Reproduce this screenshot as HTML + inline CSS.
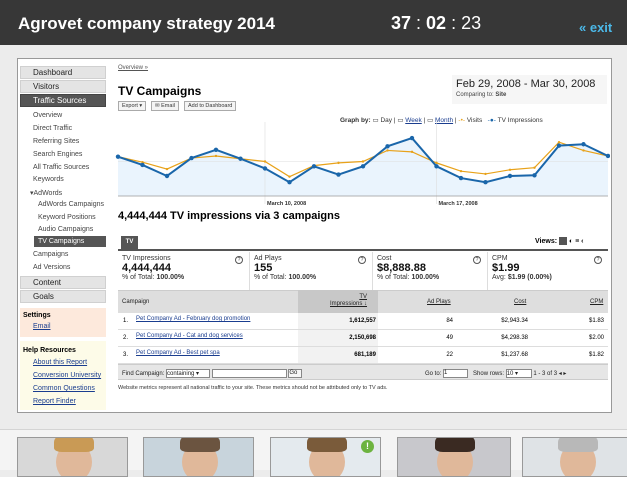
<!DOCTYPE html>
<html><head><meta charset="utf-8">
<style>
*{margin:0;padding:0;box-sizing:border-box}
body{width:627px;height:470px;overflow:hidden;background:#ececec;font-family:"Liberation Sans",Arial,sans-serif;position:relative}
.a{position:absolute;white-space:nowrap}
.s{font-size:7px;color:#444}
.nav{position:absolute;left:20px;width:86px;height:13px;background:#e4e4e4;border:1px solid #d0d0d0;font-size:8px;color:#222;padding-left:12px;line-height:11px}
.lk{color:#1a3d8f;text-decoration:underline}
.btn{position:absolute;top:101px;height:10px;border:1px solid #aaa;background:#f4f4f4;font-size:5.5px;line-height:8px;padding:0 3px;color:#333}
.mb{position:absolute;top:252px;height:38px;border-right:1px solid #ddd;padding:3px 4px;font-size:7px;color:#333}
.mb b.v{display:block;font-size:11px;color:#111;line-height:12px}
.q{position:absolute;top:4px;right:6px;width:8px;height:8px;border:1px solid #555;border-radius:50%;font-size:5px;text-align:center;line-height:6px}
.td{position:absolute;font-size:6px;color:#222}
</style></head><body>
<div class="a" style="left:0;top:0;width:627px;height:45px;background:#373737"></div>
<div class="a" style="left:18px;top:14px;font-size:17px;font-weight:bold;color:#fff">Agrovet company strategy 2014</div>
<div class="a" style="left:391px;top:13px;font-size:18px;color:#fff"><b>37</b> : <b>02</b> : 23</div>
<div class="a" style="left:579px;top:20px;font-size:13px;font-weight:bold;color:#4bb8e8">« exit</div>

<div class="a" style="left:17px;top:58px;width:595px;height:355px;background:#fff;border:1px solid #999"></div>

<div class="nav" style="top:66px">Dashboard</div>
<div class="nav" style="top:80px">Visitors</div>
<div class="nav" style="top:94px;background:#555;color:#fff;border-color:#444">Traffic Sources</div>
<div class="a s" style="left:33px;top:112px">Overview</div>
<div class="a s" style="left:33px;top:125px">Direct Traffic</div>
<div class="a s" style="left:33px;top:138px">Referring Sites</div>
<div class="a s" style="left:33px;top:151px">Search Engines</div>
<div class="a s" style="left:33px;top:164px">All Traffic Sources</div>
<div class="a s" style="left:33px;top:176px">Keywords</div>
<div class="a s" style="left:30px;top:189px">▾AdWords</div>
<div class="a s" style="left:38px;top:201px">AdWords Campaigns</div>
<div class="a s" style="left:38px;top:214px">Keyword Positions</div>
<div class="a s" style="left:38px;top:226px">Audio Campaigns</div>
<div class="a s" style="left:34px;top:236px;width:72px;height:11px;background:#555;color:#fff;padding-left:4px;line-height:11px">TV Campaigns</div>
<div class="a s" style="left:33px;top:251px">Campaigns</div>
<div class="a s" style="left:33px;top:264px">Ad Versions</div>
<div class="nav" style="top:276px">Content</div>
<div class="nav" style="top:290px">Goals</div>
<div class="a" style="left:20px;top:308px;width:86px;height:29px;background:#fde9dc"></div>
<div class="a" style="left:23px;top:312px;font-size:7px;font-weight:bold">Settings</div>
<div class="a s lk" style="left:33px;top:323px">Email</div>
<div class="a" style="left:20px;top:341px;width:86px;height:69px;background:#fdfbe8"></div>
<div class="a" style="left:23px;top:347px;font-size:7px;font-weight:bold">Help Resources</div>
<div class="a s lk" style="left:33px;top:359px">About this Report</div>
<div class="a s lk" style="left:33px;top:372px">Conversion University</div>
<div class="a s lk" style="left:33px;top:385px">Common Questions</div>
<div class="a s lk" style="left:33px;top:398px">Report Finder</div>

<div class="a lk" style="left:118px;top:65px;font-size:6px;color:#555">Overview »</div>
<div class="a" style="left:118px;top:84px;font-size:12px;font-weight:bold">TV Campaigns</div>
<div class="btn" style="left:118px">Export ▾</div>
<div class="btn" style="left:151px">✉ Email</div>
<div class="btn" style="left:184px">Add to Dashboard</div>
<div class="a" style="left:452px;top:75px;width:155px;height:29px;background:#f6f6f6"></div>
<div class="a" style="left:456px;top:78px;font-size:11px;color:#222">Feb 29, 2008 - Mar 30, 2008</div>
<div class="a" style="left:456px;top:92px;font-size:6px;color:#444">Comparing to: <b>Site</b></div>
<div class="a" style="left:340px;top:116px;font-size:6.5px;color:#333"><b>Graph by:</b> ▭ Day | ▭ <span class="lk">Week</span> | ▭ <span class="lk">Month</span> | <span style="color:#e8a21a">-•-</span> Visits &nbsp; <span style="color:#1a66aa">-●-</span> TV Impressions</div>

<svg class="a" style="left:110px;top:120px" width="500" height="90" id="chart"></svg>

<div class="a" style="left:118px;top:210px;font-size:11px;font-weight:bold">4,444,444 TV impressions via 3 campaigns</div>
<div class="a" style="left:121px;top:236px;width:17px;height:13px;background:#555;color:#fff;font-size:6px;font-weight:bold;text-align:center;line-height:13px">TV</div>
<div class="a" style="left:118px;top:249px;width:490px;height:2px;background:#555"></div>
<div class="a" style="left:535px;top:237px;font-size:7px;font-weight:bold">Views: <span style="display:inline-block;width:8px;height:8px;background:#555;vertical-align:middle"></span> ◐ ≡ ‹</div>

<div class="mb" style="left:118px;width:132px">TV Impressions<b class="v">4,444,444</b>% of Total: <b>100.00%</b><span class="q">?</span></div>
<div class="mb" style="left:250px;width:123px">Ad Plays<b class="v">155</b>% of Total: <b>100.00%</b><span class="q">?</span></div>
<div class="mb" style="left:373px;width:115px">Cost<b class="v">$8,888.88</b>% of Total: <b>100.00%</b><span class="q">?</span></div>
<div class="mb" style="left:488px;width:120px;border:0">CPM<b class="v">$1.99</b>Avg: <b>$1.99 (0.00%)</b><span class="q">?</span></div>

<div class="a" style="left:118px;top:290px;width:490px;height:23px;background:#dedede;border-top:1px solid #ccc"></div>
<div class="a" style="left:298px;top:290px;width:80px;height:23px;background:#c8c8c8"></div>
<div class="a" style="left:298px;top:313px;width:80px;height:51px;background:#f2f2f2"></div>
<div class="td" style="left:122px;top:299px">Campaign</div>
<div class="td lk" style="left:330px;top:294px;text-align:right;line-height:7px">TV<br>Impressions ↓</div>
<div class="td lk" style="left:427px;top:299px">Ad Plays</div>
<div class="td lk" style="left:514px;top:299px">Cost</div>
<div class="td lk" style="left:590px;top:299px">CPM</div>
<div id="rows"></div>
<div class="a" style="left:118px;top:364px;width:490px;height:16px;background:#e6e6e6;border-top:1px solid #ccc;border-bottom:1px solid #ccc"></div>
<div class="td" style="left:122px;top:369px">Find Campaign: <span style="display:inline-block;width:44px;height:9px;border:1px solid #888;background:#fff;vertical-align:middle">containing ▾</span> <span style="display:inline-block;width:75px;height:9px;border:1px solid #888;background:#fff;vertical-align:middle"></span> <span style="display:inline-block;width:14px;height:9px;border:1px solid #888;background:#f6f6f6;vertical-align:middle">Go</span></div>
<div class="td" style="left:425px;top:369px">Go to: <span style="display:inline-block;width:25px;height:9px;border:1px solid #888;background:#fff;vertical-align:middle">1</span> &nbsp; Show rows: <span style="display:inline-block;width:26px;height:9px;border:1px solid #888;background:#fff;vertical-align:middle">10 ▾</span> 1 - 3 of 3 ◂ ▸</div>
<div class="a" style="left:118px;top:385px;font-size:5.5px;color:#333">Website metrics represent all national traffic to your site. These metrics should not be attributed only to TV ads.</div>

<div class="a" style="left:0;top:429px;width:627px;height:41px;background:#f4f4f4;border-top:1px solid #d4d4d4"></div>
<div id="cards"></div>

<script>
const campaigns=["Pet Company Ad - February dog promotion","Pet Company Ad - Cat and dog services","Pet Company Ad - Best pet spa"];
const impressions=["1,612,557","2,150,698","681,189"];
const adPlays=["84","49","22"];
const costs=["$2,943.34","$4,298.38","$1,237.68"];
const cpms=["$1.83","$2.00","$1.82"];
const tvValues=[57,45,29,55,67,54,40,20,43,31,43,72,84,43,26,20,29,30,73,75,58];
const visitValues=[57,49,39,55,58,54,50,28,44,48,50,66,64,48,36,32,38,41,78,66,58];
const xTickLabels=["March 10, 2008","March 17, 2008"];
const xTickIndex=[6,13];

const rows=document.getElementById('rows');
campaigns.forEach((c,i)=>{
  const y=313+i*17;
  const r=document.createElement('div');
  r.className='a';
  r.style.cssText=`left:118px;top:${y}px;width:490px;height:17px;border-bottom:1px solid #ddd;font-size:6px`;
  
  
  r.innerHTML=`<span class="a" style="left:5px;top:5px">${i+1}.</span><span class="a lk" style="left:18px;top:3px">${c}</span><span class="a" style="right:232px;top:5px;font-weight:bold">${impressions[i]}</span><span class="a" style="right:155px;top:5px">${adPlays[i]}</span><span class="a" style="right:80px;top:5px">${costs[i]}</span><span class="a" style="right:4px;top:5px">${cpms[i]}</span>`;
  rows.appendChild(r);
});

const NS='http://www.w3.org/2000/svg';
const svg=document.getElementById('chart');
const x0=8,x1=498,yb=76,yt=7;
const xs=i=>x0+(x1-x0)*i/(tvValues.length-1);
const ys=v=>yb-(yb-yt)*v/100;
function mk(t,a,name){const e=document.createElementNS(NS,t);for(const k in a)e.setAttribute(k,a[k]);


svg.appendChild(e);return e;}
let area=`M${xs(0)},${yb} `+tvValues.map((v,i)=>`L${xs(i)},${ys(v)}`).join(' ')+` L${xs(tvValues.length-1)},${yb} Z`;
mk('path',{d:area,fill:'#eaf4fd'},'tv-area');
mk('line',{x1:x0,x2:x1,y1:ys(50),y2:ys(50),stroke:'#ddd','stroke-width':0.6},'grid-line');
xTickIndex.forEach((ix,k)=>{
  mk('line',{x1:xs(ix),x2:xs(ix),y1:yt-5,y2:yb+8,stroke:'#ddd','stroke-width':0.6},'x-gridline');
  const t=mk('text',{x:xs(ix)+2,y:yb+9,'font-size':5.5,'font-weight':'bold',fill:'#333'},'x-tick-label');t.textContent=xTickLabels[k];
});
mk('line',{x1:x0,x2:x1,y1:yb,y2:yb,stroke:'#999','stroke-width':0.8},'x-axis');
mk('polyline',{points:visitValues.map((v,i)=>`${xs(i)},${ys(v)}`).join(' '),fill:'none',stroke:'#e8a21a','stroke-width':1.2},'visits-line');
visitValues.forEach((v,i)=>mk('circle',{cx:xs(i),cy:ys(v),r:1.2,fill:'#e8a21a'},'visits-point'));
mk('polyline',{points:tvValues.map((v,i)=>`${xs(i)},${ys(v)}`).join(' '),fill:'none',stroke:'#1a66aa','stroke-width':2},'tv-impressions-line');
tvValues.forEach((v,i)=>mk('circle',{cx:xs(i),cy:ys(v),r:2.2,fill:'#1a66aa'},'tv-impressions-point'));

const cards=document.getElementById('cards');
const cx=[17,143,270,397,522],cw=[111,111,111,114,110],bgs=['#d8d8d8','#c8d4dc','#e4eaee','#c8c8cc','#dfe3e6'],hair=['#c99a55','#6b5440','#7a5b3a','#3a2a22','#b8b8b8'];
cx.forEach((x,i)=>{
  const d=document.createElement('div');
  d.className='a';
  d.style.cssText=`left:${x}px;top:437px;width:${cw[i]}px;height:40px;background:${bgs[i]};border:1px solid #999;overflow:hidden`;
  
  
  d.innerHTML=`<div class="a" style="left:${cw[i]/2-18}px;top:4px;width:36px;height:40px;border-radius:50%;background:#e0b89a"></div><div class="a" style="left:${cw[i]/2-20}px;top:-6px;width:40px;height:20px;border-radius:50% 50% 20% 20%;background:${hair[i]}"></div>`;
  cards.appendChild(d);
});
const badge=document.createElement('div');
badge.className='a';
badge.style.cssText='left:361px;top:440px;width:13px;height:13px;border-radius:50%;background:#6cb33f;color:#fff;font-size:9px;font-weight:bold;text-align:center;line-height:13px';
badge.textContent='!';


cards.appendChild(badge);
</script>
</body></html>
